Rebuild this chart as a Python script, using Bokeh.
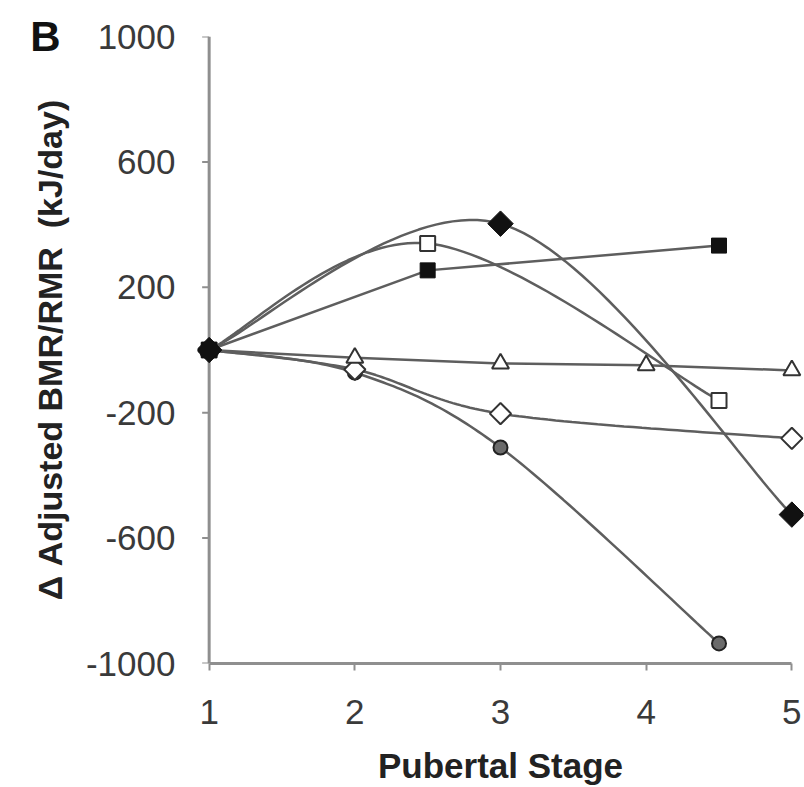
import numpy as np
from bokeh.plotting import figure
from bokeh.models import LinearAxis, FixedTicker, Range1d
from bokeh.embed import file_html
from bokeh.resources import INLINE

# ---- data ----
x_ticks = [1, 2, 3, 4, 5]
y_ticks = [-1000, -600, -200, 200, 600, 1000]

fd_x = [1, 3, 5]            # filled diamond (smoothed)
fd_y = [0, 403, -525]
fs_x = [1, 2.5, 4.5]        # filled square (straight)
fs_y = [0, 254, 333]
os_x = [1, 2.5, 4.5]        # open square (smoothed)
os_y = [0, 340, -161]
tr_x = [1, 2, 3, 4, 5]      # open triangle (straight)
tr_y = [0, -25, -43, -49, -65]
od_x = [1, 2, 3, 5]         # open diamond (smoothed)
od_y = [0, -62, -203, -282]
ci_x = [1, 2, 3, 4.5]       # grey circle (smoothed)
ci_y = [0, -72, -311, -936]

panel_letter = "B"

FONT = "Liberation Sans"
LINE = "#5e5e5e"
AX = "#8f8f8f"

# pixel scales used only so that the smoothing behaves like a screen-space spline
SX, SY = 145.5, 627.0 / 2000.0


def smooth(xs, ys, n=40):
    P = np.column_stack([np.array(xs, float) * SX, np.array(ys, float) * SY])
    m = len(P)
    out = []
    t = np.linspace(0, 1, n)[:, None]
    for i in range(m - 1):
        p0 = P[i - 1] if i > 0 else P[i]
        p1, p2 = P[i], P[i + 1]
        p3 = P[i + 2] if i + 2 < m else P[i + 1]
        c1 = p1 + (p2 - p0) / 6.0
        c2 = p2 - (p3 - p1) / 6.0
        seg = (1 - t) ** 3 * p1 + 3 * (1 - t) ** 2 * t * c1 + 3 * (1 - t) * t ** 2 * c2 + t ** 3 * p2
        out.append(seg if i == 0 else seg[1:])
    a = np.vstack(out)
    return a[:, 0] / SX, a[:, 1] / SY


p = figure(width=804, height=787,
           x_range=Range1d(0.92, 5.08), y_range=Range1d(-1000, 1000),
           output_backend="svg", toolbar_location=None,
           x_axis_location=None, y_axis_location=None,
           min_border_left=197, min_border_right=1,
           min_border_top=36, min_border_bottom=124)
p.outline_line_color = None
for g in p.grid:
    g.visible = False
p.background_fill_color = "white"

yaxis = LinearAxis(ticker=FixedTicker(ticks=y_ticks),
                   axis_label="\u0394 Adjusted BMR/RMR\u00a0\u00a0(kJ/day)")
yaxis.major_label_overrides = {v: str(v) for v in y_ticks}
xaxis = LinearAxis(ticker=FixedTicker(ticks=x_ticks), bounds=(1, 5), axis_label="Pubertal Stage")
for ax in (xaxis, yaxis):
    ax.axis_line_color = AX
    ax.axis_line_width = 3
    ax.major_tick_line_color = AX
    ax.major_tick_line_width = 2
    ax.major_tick_out = 7
    ax.major_tick_in = 0
    ax.minor_tick_line_color = None
    ax.major_label_text_font = FONT
    ax.major_label_text_font_size = "35px"
    ax.major_label_text_color = "#3a3a3a"
    ax.axis_label_text_font = FONT
    ax.axis_label_text_font_style = "bold"
    ax.axis_label_text_color = "#222222"
yaxis.axis_label_text_font_size = "34px"
xaxis.axis_label_text_font_size = "35px"
# y axis sits at the frame edge; its visible line and ticks are drawn at x = 1 below
yaxis.axis_line_color = None
yaxis.major_tick_line_color = None
yaxis.major_tick_out = 0
yaxis.major_label_standoff = 22
yaxis.axis_label_standoff = 14
xaxis.major_label_standoff = 29
xaxis.axis_label_standoff = 19
p.add_layout(yaxis, "left")
p.add_layout(xaxis, "below")

# panel letter: an outer left axis with a single labelled tick at the top value
ymax = max(y_ticks)
letter_axis = LinearAxis(ticker=FixedTicker(ticks=[ymax]),
                         major_label_overrides={ymax: panel_letter})
letter_axis.axis_line_color = None
letter_axis.major_tick_line_color = None
letter_axis.minor_tick_line_color = None
letter_axis.major_tick_out = 0
letter_axis.major_tick_in = 0
letter_axis.major_label_standoff = -33
letter_axis.major_label_text_font = FONT
letter_axis.major_label_text_font_style = "bold"
letter_axis.major_label_text_font_size = "42px"
letter_axis.major_label_text_color = "#111111"
p.add_layout(letter_axis, "left")

# y axis line and ticks at x = first stage
x0 = x_ticks[0]
p.line([x0, x0], [min(y_ticks), max(y_ticks)], line_color=AX, line_width=3)
p.segment(x0=[x0] * len(y_ticks), y0=y_ticks, x1=[x0 - 7 / SX] * len(y_ticks), y1=y_ticks,
          line_color=AX, line_width=2)

# lines
for xs, ys in ((fd_x, fd_y), (os_x, os_y), (od_x, od_y), (ci_x, ci_y)):
    sx, sy = smooth(xs, ys)
    p.line(sx, sy, line_color=LINE, line_width=2.5)
for xs, ys in ((fs_x, fs_y), (tr_x, tr_y)):
    p.line(xs, ys, line_color=LINE, line_width=2.5)

# markers
D = np.pi / 4
p.scatter(ci_x, ci_y, marker="circle", size=14, fill_color="#6b6b6b", line_color="#222222", line_width=2)
p.scatter(od_x, od_y, marker="square", angle=D, size=15, fill_color="white", line_color="#333333", line_width=2)
p.scatter(tr_x, tr_y, marker="triangle", size=17, fill_color="white", line_color="#333333", line_width=2)
p.scatter(os_x, os_y, marker="square", size=15, fill_color="white", line_color="#333333", line_width=2)
p.scatter(fs_x, fs_y, marker="square", size=15, fill_color="#111111", line_color="#111111", line_width=1)
p.scatter(fd_x, fd_y, marker="square", angle=D, size=18, fill_color="#111111", line_color="#111111", line_width=1)

open("out.html", "w").write(file_html(p, INLINE))
